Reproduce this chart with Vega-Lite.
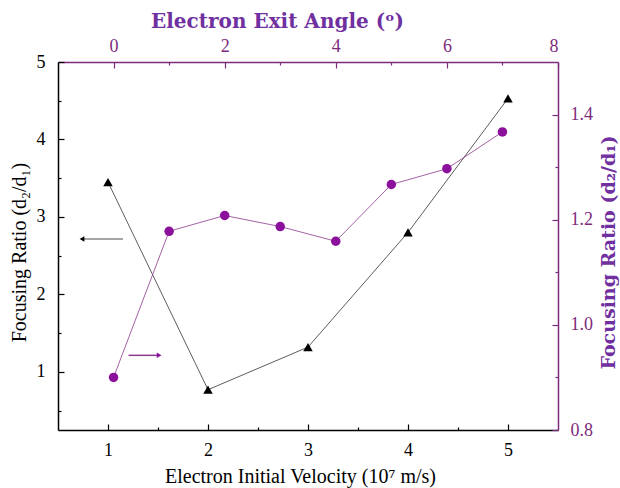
{
  "$schema": "https://vega.github.io/schema/vega-lite/v6.json",
  "width": 500,
  "height": 368,
  "autosize": "none",
  "padding": {"left": 58, "top": 62, "right": 62, "bottom": 58},
  "background": "white",
  "config": {
    "view": {"stroke": null},
    "font": "Liberation Serif",
    "axis": {"grid": false, "labelFont": "Liberation Serif", "titleFont": "Liberation Serif", "labelFontSize": 18, "titleFontSize": 20, "titleFontWeight": "normal", "domainWidth": 1.5, "tickWidth": 1.2}
  },
  "datasets": {
    "velocity": [
      {"x": 1, "y": 3.45},
      {"x": 2, "y": 0.77},
      {"x": 3, "y": 1.32},
      {"x": 4, "y": 2.8},
      {"x": 5, "y": 4.53}
    ],
    "angle": [
      {"x": 0, "y": 0.90},
      {"x": 1, "y": 1.178},
      {"x": 2, "y": 1.208},
      {"x": 3, "y": 1.187},
      {"x": 4, "y": 1.159},
      {"x": 5, "y": 1.267},
      {"x": 6, "y": 1.297},
      {"x": 7, "y": 1.367}
    ],
    "arrowLeft": [
      {"x": 0.74, "xs": 1.15, "y": 2.716}
    ],
    "arrowRight": [
      {"x": 0.82, "xs": 0.27, "y": 0.942}
    ]
  },
  "resolve": {"scale": {"x": "independent", "y": "independent"}, "axis": {"x": "independent", "y": "independent"}},
  "layer": [
    {
      "resolve": {"scale": {"x": "shared", "y": "shared"}, "axis": {"x": "independent", "y": "independent"}},
      "layer": [
        {
          "data": {"name": "velocity"},
          "mark": {"type": "line", "color": "#333333", "strokeWidth": 0.8},
          "encoding": {
            "x": {"field": "x", "type": "quantitative", "scale": {"domain": [0.5, 5.5], "nice": false, "zero": false},
              "axis": {"orient": "bottom", "title": "Electron Initial Velocity (10⁷ m/s)", "values": [1, 2, 3, 4, 5],
                "format": ".0f", "tickSize": -6, "titleFontSize": 20, "titleX": 242,
                "labelPadding": 17, "titlePadding": 7, "domainColor": "black", "tickColor": "black", "labelColor": "black", "titleColor": "black"}},
            "y": {"field": "y", "type": "quantitative", "scale": {"domain": [0.25, 5], "nice": false, "zero": false},
              "axis": {"orient": "left", "title": "Focusing Ratio (d₂/d₁)", "values": [1, 2, 3, 4, 5],
                "format": ".0f", "tickSize": -6, "titleY": 190,
                "labelPadding": 19, "titlePadding": 7, "domainColor": "black", "tickColor": "black", "labelColor": "black", "titleColor": "black"}}
          }
        },
        {
          "data": {"name": "velocity"},
          "mark": {"type": "point", "shape": "triangle-up", "filled": true, "color": "black", "size": 90, "opacity": 1},
          "encoding": {
            "x": {"field": "x", "type": "quantitative", "axis": null},
            "y": {"field": "y", "type": "quantitative", "axis": null}
          }
        },
        {
          "data": {"name": "arrowLeft"},
          "mark": {"type": "rule", "color": "#888888", "strokeWidth": 1.5},
          "encoding": {
            "x": {"field": "x", "type": "quantitative", "axis": null},
            "x2": {"field": "xs"},
            "y": {"field": "y", "type": "quantitative", "axis": null}
          }
        },
        {
          "data": {"name": "arrowLeft"},
          "mark": {"type": "point", "shape": "triangle-left", "filled": true, "color": "black", "size": 30, "opacity": 1},
          "encoding": {
            "x": {"field": "x", "type": "quantitative",
              "axis": {"orient": "bottom", "title": null, "values": [1.5, 2.5, 3.5, 4.5], "labels": false, "domain": false, "tickSize": -3, "tickColor": "black"}},
            "y": {"field": "y", "type": "quantitative",
              "axis": {"orient": "left", "title": null, "values": [0.5, 1.5, 2.5, 3.5, 4.5], "labels": false, "domain": false, "tickSize": -3, "tickColor": "black"}}
          }
        }
      ]
    },
    {
      "resolve": {"scale": {"x": "shared", "y": "shared"}, "axis": {"x": "independent", "y": "independent"}},
      "layer": [
        {
          "data": {"name": "angle"},
          "mark": {"type": "line", "color": "#8b3a8f", "strokeWidth": 0.8},
          "encoding": {
            "x": {"field": "x", "type": "quantitative", "scale": {"domain": [-1, 8], "nice": false, "zero": false},
              "axis": {"orient": "top", "title": "Electron Exit Angle (ᵒ)", "values": [0, 2, 4, 6, 8],
                "format": ".0f", "tickSize": -6, "titleX": 219,
                "labelPadding": 13, "titlePadding": 6, "domainColor": "#7d2b7d", "tickColor": "#7d2b7d", "labelColor": "#7d2b7d", "titleColor": "#7030a0", "titleFontWeight": "bold", "titleFont": "DejaVu Serif", "titleFontSize": 20}},
            "y": {"field": "y", "type": "quantitative", "scale": {"domain": [0.8, 1.5], "nice": false, "zero": false},
              "axis": {"orient": "right", "title": "Focusing Ratio (d₂/d₁)", "values": [0.8, 1.0, 1.2, 1.4],
                "format": ".1f", "tickSize": -6, "titleY": 190,
                "labelPadding": 18, "titlePadding": 26, "titleAngle": 270, "domainColor": "#7d2b7d", "tickColor": "#7d2b7d", "labelColor": "#7d2b7d", "titleColor": "#7030a0", "titleFontWeight": "bold", "titleFont": "DejaVu Serif", "titleFontSize": 19}}
          }
        },
        {
          "data": {"name": "angle"},
          "mark": {"type": "point", "shape": "circle", "filled": true, "color": "#8b109b", "size": 90, "opacity": 1},
          "encoding": {
            "x": {"field": "x", "type": "quantitative", "axis": null},
            "y": {"field": "y", "type": "quantitative", "axis": null}
          }
        },
        {
          "data": {"name": "arrowRight"},
          "mark": {"type": "rule", "color": "#8b3a8f", "strokeWidth": 1.5},
          "encoding": {
            "x": {"field": "x", "type": "quantitative", "axis": null},
            "x2": {"field": "xs"},
            "y": {"field": "y", "type": "quantitative", "axis": null}
          }
        },
        {
          "data": {"name": "arrowRight"},
          "mark": {"type": "point", "shape": "triangle-right", "filled": true, "color": "#8b109b", "size": 30, "opacity": 1},
          "encoding": {
            "x": {"field": "x", "type": "quantitative",
              "axis": {"orient": "top", "title": null, "values": [1, 3, 5, 7], "labels": false, "domain": false, "tickSize": -3, "tickColor": "#7d2b7d"}},
            "y": {"field": "y", "type": "quantitative",
              "axis": {"orient": "right", "title": null, "values": [0.9, 1.1, 1.3], "labels": false, "domain": false, "tickSize": -3, "tickColor": "#7d2b7d"}}
          }
        }
      ]
    }
  ]
}
